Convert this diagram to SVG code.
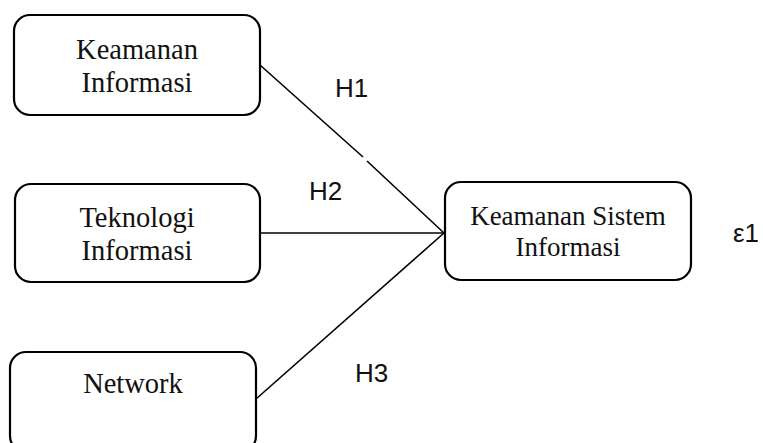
<svg xmlns="http://www.w3.org/2000/svg" width="763" height="443" viewBox="0 0 763 443">
<style>
.box{fill:#fff;stroke:#000;stroke-width:2.2}
.t{font-family:"Liberation Serif","Times New Roman",serif;font-size:28.5px;fill:#111;text-anchor:middle}
.t2{font-family:"Liberation Serif","Times New Roman",serif;font-size:27px;fill:#111;text-anchor:middle}
.h{font-family:"Liberation Sans",Arial,sans-serif;font-size:26px;fill:#111}
.c{stroke:#000;stroke-width:1.6;fill:none}
</style>
<rect width="763" height="443" fill="#fff"/>
<g id="connectors">
<line class="c" x1="260" y1="65" x2="363" y2="157"/>
<line class="c" x1="367" y1="161" x2="444" y2="233"/>
<line class="c" x1="260" y1="233" x2="444" y2="233"/>
<line class="c" x1="256" y1="399" x2="444" y2="233"/>
</g>
<g id="keamanan-informasi">
<rect class="box" x="14" y="15" width="246" height="100" rx="16"/>
<text class="t" x="137" y="59">Keamanan</text>
<text class="t" x="137" y="92">Informasi</text>
</g>
<g id="teknologi-informasi">
<rect class="box" x="15" y="184" width="245" height="98" rx="16"/>
<text class="t" x="137" y="227">Teknologi</text>
<text class="t" x="137" y="260">Informasi</text>
</g>
<g id="network">
<rect class="box" x="10" y="352" width="246" height="100" rx="16"/>
<text class="t" x="133" y="393">Network</text>
</g>
<g id="keamanan-sistem-informasi">
<rect class="box" x="445" y="182" width="246" height="98" rx="16"/>
<text class="t2" x="568" y="225">Keamanan Sistem</text>
<text class="t2" x="568" y="256">Informasi</text>
</g>
<g id="labels">
<text class="h" x="335" y="97">H1</text>
<text class="h" x="309" y="200">H2</text>
<text class="h" x="355" y="382">H3</text>
<text class="h" x="733" y="242">ε1</text>
</g>
</svg>
